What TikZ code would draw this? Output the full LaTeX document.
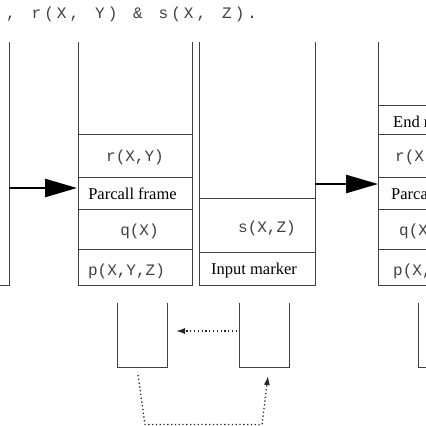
\documentclass[tikz,border=0pt]{standalone}
\usepackage{fontspec}
\setmainfont{Liberation Serif}
\newfontfamily\monofont{Liberation Mono}
\usetikzlibrary{arrows.meta}
\newcommand\lk{\kern3.1pt}
\tikzstyle{every node}=[inner sep=0pt]
\tikzset{
	stackline/.style={line width=1pt, black!75},
	mono/.style={font=\monofont\fontsize{16}{19}\selectfont, black!75},
	serif/.style={font=\fontsize{16.5}{19}\selectfont},
	push/.style={line width=2.6pt, -{Triangle[length=32pt,width=18pt]}},
	link/.style={line width=1.3pt, black!85, dash pattern=on 1.3pt off 2.5pt, -{Latex[length=9pt,width=6pt]}}
}

\begin{document}
\begin{tikzpicture}[x=1pt,y=-1pt]
	\useasboundingbox (0,0) rectangle (426,426);
	\clip (0,0) rectangle (426,426);
	
	% goal
	\node[mono, anchor=base west] (goal) at (6,18.5) {,\lk~\lk r\lk(\lk X\lk,\lk~\lk Y\lk)\lk~\lk\&\lk~\lk s\lk(\lk X\lk,\lk~\lk Z\lk)\lk.};
	
	% stacks
	\draw[stackline] (9,42) -- (9,285) -- (0,285);
	
	\draw[stackline] (78,42) -- (78,285) -- (192,285) -- (192,42);
	\foreach \y in {134,177,209,249}
		\draw[stackline] (78,\y) -- (192,\y);
	
	\draw[stackline] (199,42) -- (199,285) -- (315,285) -- (315,42);
	\foreach \y in {198,252}
		\draw[stackline] (199,\y) -- (315,\y);
	
	\draw[stackline] (378,42) -- (378,285) -- (426,285);
	\foreach \y in {105,134,177,209,249}
		\draw[stackline] (378,\y) -- (426,\y);
	
	% frames
	\node[mono, anchor=base] (rtwo) at (135,161) {r(X,Y)};
	\node[serif, anchor=base] (pctwo) at (132.5,199) {Parcall frame};
	\node[mono, anchor=base] (qtwo) at (139.5,235) {q(X)};
	\node[mono, anchor=base] (ptwo) at (126.5,275) {p(X,Y,Z)};
	
	\node[mono, anchor=base] (sthree) at (267,232) {s(X,Z)};
	\node[serif, anchor=base] (imthree) at (254,274) {Input marker};
	
	\node[serif, anchor=base west] (emfour) at (393,127) {End marker};
	\node[mono, anchor=base west] (rfour) at (395,161) {r(X,Y)};
	\node[serif, anchor=base west] (pcfour) at (391,199) {Parcall frame};
	\node[mono, anchor=base west] (qfour) at (399,235) {q(X)};
	\node[mono, anchor=base west] (pfour) at (393,275) {p(X,Y,Z)};
	
	% small stacks
	\draw[stackline] (117,303) -- (117,367) -- (167,367) -- (167,303);
	\draw[stackline] (239,303) -- (239,367) -- (289,367) -- (289,303);
	\draw[stackline] (418,303) -- (418,367) -- (426,367);
	
	% arrows
	\coordinate (sa) at (9,188);
	\coordinate (sb) at (77,188);
	\coordinate (sc) at (315,184);
	\coordinate (sd) at (378,184);
	\draw[push] (sa) -- (sb);
	\draw[push] (sc) -- (sd);
	
	\coordinate (ma) at (237,331);
	\coordinate (mb) at (176,331);
	\draw[link] (ma) -- (mb);
	
	\coordinate (la) at (138,375);
	\coordinate (lb) at (145,424.5);
	\coordinate (lc) at (262,424.5);
	\coordinate (ld) at (268,376);
	\draw[link] (la) -- (lb) -- (lc) -- (ld);
\end{tikzpicture}
\end{document}
